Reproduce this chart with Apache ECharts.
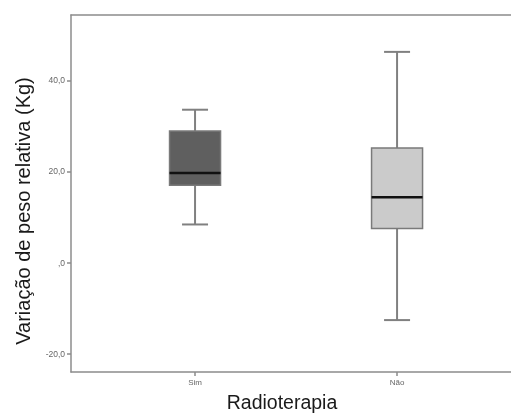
<!DOCTYPE html>
<html>
<head>
<meta charset="utf-8">
<script src="https://cdn.jsdelivr.net/npm/echarts@6/dist/echarts.min.js"></script>
<style>
  html, body { margin: 0; padding: 0; background: #fff; }
  #chart { width: 511px; height: 419px; }
</style>
</head>
<body>
<div id="chart"></div>
<script>
// ---- data ----
const categories = ['Sim', 'Não'];
const whiskerLow = [8.5, -12.5];
const q1 = [17.1, 7.6];
const medians = [19.8, 14.5];
const q3 = [29.0, 25.3];
const whiskerHigh = [33.7, 46.4];
const yTicks = [-20, 0, 20, 40];
const yTickLabels = ['-20,0', ',0', '20,0', '40,0'];
const boxFills = ['#5f5f5f', '#cbcbcb'];

const FONT = "'Liberation Sans', Arial, sans-serif";
const AXIS_COLOR = '#8c8c8c';

const data = categories.map((c, i) => [i, whiskerLow[i], q1[i], medians[i], q3[i], whiskerHigh[i]]);

const chart = echarts.init(document.getElementById('chart'), null, { renderer: 'canvas' });

function renderItem(params, api) {
  const x = api.value(0);
  const pLow = api.coord([x, api.value(1)]);
  const pQ1 = api.coord([x, api.value(2)]);
  const pMed = api.coord([x, api.value(3)]);
  const pQ3 = api.coord([x, api.value(4)]);
  const pHigh = api.coord([x, api.value(5)]);
  const bw = 51, cw = 26;
  const cx = pMed[0];
  const wStyle = { stroke: '#808080', lineWidth: 2 };
  return {
    type: 'group',
    children: [
      { type: 'line', shape: { x1: cx, y1: pHigh[1], x2: cx, y2: pQ3[1] }, style: wStyle },
      { type: 'line', shape: { x1: cx, y1: pQ1[1], x2: cx, y2: pLow[1] }, style: wStyle },
      { type: 'line', shape: { x1: cx - cw / 2, y1: pHigh[1], x2: cx + cw / 2, y2: pHigh[1] }, style: wStyle },
      { type: 'line', shape: { x1: cx - cw / 2, y1: pLow[1], x2: cx + cw / 2, y2: pLow[1] }, style: wStyle },
      { type: 'rect', shape: { x: cx - bw / 2, y: pQ3[1], width: bw, height: pQ1[1] - pQ3[1] },
        style: { fill: boxFills[params.dataIndex], stroke: '#7a7a7a', lineWidth: 1.5 } },
      { type: 'line', shape: { x1: cx - bw / 2, y1: pMed[1], x2: cx + bw / 2, y2: pMed[1] },
        style: { stroke: '#111', lineWidth: 2.5 } }
    ]
  };
}

const xMin = -0.614, xMax = 1.564;

chart.setOption({
  animation: false,
  backgroundColor: '#fff',
  grid: { left: 71, right: 0, top: 15, bottom: 46 },
  xAxis: [
    {
      type: 'value', position: 'bottom', min: xMin, max: xMax,
      name: 'Radioterapia', nameLocation: 'middle', nameGap: 22,
      nameTextStyle: { fontSize: 19.5, fontFamily: FONT, color: '#1a1a1a', padding: [0, 18, 0, 0] },
      splitLine: { show: false },
      axisLine: { show: true, onZero: false, lineStyle: { color: AXIS_COLOR, width: 1.5 } },
      axisTick: { show: true, length: 4, customValues: categories.map((c, i) => i), lineStyle: { color: AXIS_COLOR, width: 1.5 } },
      axisLabel: { show: true, customValues: categories.map((c, i) => i), margin: 7,
        fontSize: 8, fontFamily: FONT, color: '#666',
        formatter: v => categories[Math.round(v)] }
    },
    {
      type: 'value', position: 'top', min: xMin, max: xMax,
      splitLine: { show: false },
      axisLine: { show: true, onZero: false, lineStyle: { color: AXIS_COLOR, width: 1.5 } },
      axisTick: { show: false }, axisLabel: { show: false }
    }
  ],
  yAxis: {
    type: 'value', min: -23.9, max: 54.5,
    name: 'Variação de peso relativa (Kg)', nameLocation: 'middle', nameGap: 36,
    nameTextStyle: { fontSize: 20, fontFamily: FONT, color: '#1a1a1a', padding: [0, 35, 0, 0] },
    splitLine: { show: false },
    axisLine: { show: true, onZero: false, lineStyle: { color: AXIS_COLOR, width: 1.5 } },
    axisTick: { show: true, length: 4, customValues: yTicks, lineStyle: { color: AXIS_COLOR, width: 1.5 } },
    axisLabel: { show: true, customValues: yTicks, margin: 6, fontSize: 8.5, fontFamily: FONT, color: '#666',
      formatter: v => yTickLabels[yTicks.indexOf(Math.round(v))] }
  },
  series: [{
    type: 'custom',
    xAxisIndex: 0,
    renderItem: renderItem,
    encode: { x: 0, y: [1, 2, 3, 4, 5] },
    data: data
  }]
});
</script>
</body>
</html>
